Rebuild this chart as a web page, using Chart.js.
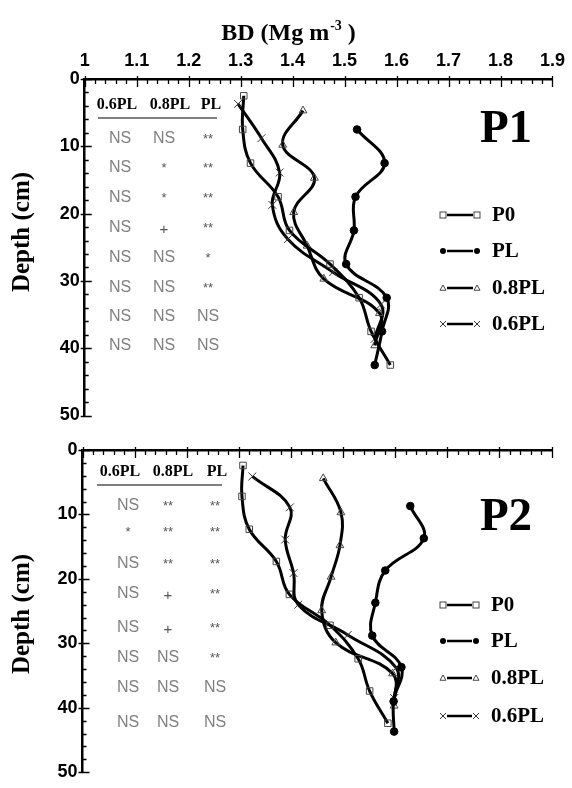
<!DOCTYPE html>
<html lang="en">
<head>
<meta charset="UTF-8">
<title>BD profiles · P1 / P2</title>
<script src="https://cdn.jsdelivr.net/npm/chart.js"></script>
<style>
  html, body {margin: 0; padding: 0; background: #fff;}
  #wrap {position: relative; width: 572px; height: 788px;}
  #wrap canvas {position: absolute; left: 0; top: 0;}
</style>
</head>
<body>
<div id="wrap">
  <canvas id="chartP1" width="572" height="788"></canvas>
  <canvas id="chartP2" width="572" height="788"></canvas>
</div>
<script>
// ---- values ----
const xTicks = [1, 1.1, 1.2, 1.3, 1.4, 1.5, 1.6, 1.7, 1.8, 1.9];
const yTicks = [0, 10, 20, 30, 40, 50];
const seriesNames = ['P0', 'PL', '0.8PL', '0.6PL'];
const tableHead = ['0.6PL', '0.8PL', 'PL'];

// P1: bulk density (Mg m-3) and depth (cm)
const p1DepthP0 = [2.5, 7.5, 12.5, 17.5, 22.5, 27.5, 32.5, 37.5, 42.5];
const p1BdP0    = [1.306, 1.304, 1.319, 1.372, 1.394, 1.472, 1.528, 1.551, 1.588];
const p1DepthPL = [7.5, 12.5, 17.5, 22.5, 27.5, 32.5, 37.5, 42.5];
const p1BdPL    = [1.524, 1.577, 1.521, 1.518, 1.503, 1.581, 1.572, 1.558];
const p1Depth08 = [4.7, 9.8, 14.7, 19.8, 24.8, 29.7, 34.8, 39.6];
const p1Bd08    = [1.420, 1.381, 1.442, 1.402, 1.428, 1.460, 1.567, 1.558];
const p1Depth06 = [3.7, 8.8, 13.9, 18.7, 23.8, 28.7, 33.5, 38.6];
const p1Bd06    = [1.295, 1.340, 1.375, 1.361, 1.391, 1.478, 1.570, 1.558];
const p1Signif = [
  ['NS', 'NS', '**'], ['NS', '*', '**'], ['NS', '*', '**'], ['NS', '+', '**'],
  ['NS', 'NS', '*'], ['NS', 'NS', '**'], ['NS', 'NS', 'NS'], ['NS', 'NS', 'NS']
];

// P2
const p2DepthP0 = [2.4, 7.2, 12.3, 17.3, 22.4, 27.2, 32.4, 37.4, 42.4];
const p2BdP0    = [1.308, 1.306, 1.320, 1.372, 1.397, 1.475, 1.529, 1.551, 1.586];
const p2DepthPL = [8.7, 13.7, 18.7, 23.7, 28.8, 33.7, 39.0, 43.7];
const p2BdPL    = [1.629, 1.655, 1.581, 1.562, 1.556, 1.612, 1.597, 1.598];
const p2Depth08 = [4.4, 9.7, 14.8, 19.7, 24.9, 29.9, 34.7, 39.7];
const p2Bd08    = [1.462, 1.496, 1.494, 1.477, 1.459, 1.486, 1.595, 1.598];
const p2Depth06 = [4.1, 8.9, 13.9, 19.1, 24.0, 28.7, 33.8, 38.5];
const p2Bd06    = [1.326, 1.398, 1.389, 1.405, 1.414, 1.509, 1.602, 1.598];
const p2Signif = [
  ['NS', '**', '**'], ['*', '**', '**'], ['NS', '**', '**'], ['NS', '+', '**'],
  ['NS', '+', '**'], ['NS', 'NS', '**'], ['NS', 'NS', 'NS'], ['NS', 'NS', 'NS']
];

// ---- styles / layout ----
const markStyle = [
  {pointStyle: 'rect', pointRadius: 4.6, pointBackgroundColor: 'rgba(0,0,0,0)', pointBorderColor: '#444', pointBorderWidth: 1},
  {pointStyle: 'circle', pointRadius: 3.8, pointBackgroundColor: '#000', pointBorderColor: '#000', pointBorderWidth: 1},
  {pointStyle: 'triangle', pointRadius: 4.5, pointBackgroundColor: 'rgba(0,0,0,0)', pointBorderColor: '#444', pointBorderWidth: 1},
  {pointStyle: 'crossRot', pointRadius: 5.5, pointBackgroundColor: '#444', pointBorderColor: '#333', pointBorderWidth: 1}
];
const legendMark = ['rect', 'circle', 'triangle', 'crossRot'];

const panelP1 = {
  tag: 'P1', showXLabels: true,
  box: {top: 79, left: 84.7, padRight: 19.3, padBottom: 372.5},
  series: [[p1BdP0, p1DepthP0], [p1BdPL, p1DepthPL], [p1Bd08, p1Depth08], [p1Bd06, p1Depth06]],
  signif: p1Signif,
  yTitle: {x: 23, y: 232}, tagPos: {x: 506, y: 130},
  table: {headY: 105, headX: [117, 170, 211], lineY: 118, lineX: [98, 217], colX: [120, 164, 208],
          rowY: [139, 168, 198, 228, 258, 288, 317, 346]},
  legend: {y: [215, 251, 288, 324], x0: 443, x1: 477, tx: 492}
};
const panelP2 = {
  tag: 'P2', showXLabels: false,
  box: {top: 450, left: 82.5, padRight: 20.5, padBottom: 11},
  series: [[p2BdP0, p2DepthP0], [p2BdPL, p2DepthPL], [p2Bd08, p2Depth08], [p2Bd06, p2Depth06]],
  signif: p2Signif,
  yTitle: {x: 23, y: 614}, tagPos: {x: 506, y: 518},
  table: {headY: 472, headX: [120, 173, 217], lineY: 485, lineX: [97, 222], colX: [128, 168, 215],
          rowY: [506, 532, 564, 594, 628, 658, 688, 723]},
  legend: {y: [605, 641, 678, 716], x0: 443, x1: 476, tx: 491}
};

function profile(xs, ds) {
  return xs.map((v, i) => ({x: v, y: ds[i]}));
}

// inward tick marks (major + minor), like the original plot
const tickMarks = {
  id: 'tickMarks',
  afterDraw(chart) {
    const {ctx, chartArea: a} = chart;
    const x = chart.scales.x, y = chart.scales.y;
    ctx.save();
    ctx.strokeStyle = '#000';
    ctx.lineWidth = 1.3;
    ctx.beginPath();
    for (let i = 0; i <= 45; i++) {
      const px = Math.round(x.getPixelForValue(1 + i * 0.02)) + 0.5;
      const major = i % 5 === 0;
      ctx.moveTo(px, a.top - (major ? 3 : 0));
      ctx.lineTo(px, a.top + (major ? 8 : 5));
    }
    for (let i = 0; i <= 25; i++) {
      const py = Math.round(y.getPixelForValue(i * 2)) + 0.5;
      const major = i % 5 === 0;
      ctx.moveTo(a.left - (major ? 4 : 0), py);
      ctx.lineTo(a.left + (major ? 7 : 4), py);
    }
    ctx.stroke();
    ctx.restore();
  }
};

function drawMark(ctx, style, x, y, r) {
  ctx.beginPath();
  if (style === 'rect') {
    ctx.strokeStyle = '#444'; ctx.lineWidth = 1;
    ctx.strokeRect(x - r, y - r, 2 * r, 2 * r);
  } else if (style === 'circle') {
    ctx.fillStyle = '#000';
    ctx.arc(x, y, r, 0, Math.PI * 2);
    ctx.fill();
  } else if (style === 'triangle') {
    ctx.strokeStyle = '#444'; ctx.lineWidth = 1;
    ctx.moveTo(x, y - r);
    ctx.lineTo(x + r, y + r * 0.75);
    ctx.lineTo(x - r, y + r * 0.75);
    ctx.closePath();
    ctx.stroke();
  } else {
    ctx.strokeStyle = '#333'; ctx.lineWidth = 1;
    ctx.moveTo(x - r, y - r); ctx.lineTo(x + r, y + r);
    ctx.moveTo(x - r, y + r); ctx.lineTo(x + r, y - r);
    ctx.stroke();
  }
}

function decorFor(panel) {
  return {
    id: 'decor',
    afterDraw(chart) {
      const ctx = chart.ctx;
      ctx.save();
      ctx.fillStyle = '#000';

      // axis title (only above the top panel)
      if (panel.showXLabels) {
        ctx.textBaseline = 'alphabetic';
        ctx.textAlign = 'left';
        ctx.font = 'bold 24px "Liberation Serif"';
        const a = 'BD (Mg m';
        const wa = ctx.measureText(a).width;
        ctx.font = 'bold 14px "Liberation Serif"';
        const wb = ctx.measureText('-3').width;
        ctx.font = 'bold 24px "Liberation Serif"';
        const wc = ctx.measureText(' )').width;
        let sx = 288 - (wa + wb + wc) / 2;
        ctx.fillText(a, sx, 40);
        ctx.font = 'bold 14px "Liberation Serif"';
        ctx.fillText('-3', sx + wa + 1, 30);
        ctx.font = 'bold 24px "Liberation Serif"';
        ctx.fillText(' )', sx + wa + wb + 1, 40);
      }

      // y title
      ctx.save();
      ctx.translate(panel.yTitle.x, panel.yTitle.y);
      ctx.rotate(-Math.PI / 2);
      ctx.font = 'bold 25px "Liberation Serif"';
      ctx.textAlign = 'center';
      ctx.textBaseline = 'middle';
      ctx.fillText('Depth (cm)', 0, 0);
      ctx.restore();

      // panel tag
      ctx.font = 'bold 47px "Liberation Serif"';
      ctx.textAlign = 'center';
      ctx.textBaseline = 'middle';
      ctx.fillText(panel.tag, panel.tagPos.x, panel.tagPos.y);

      // significance table
      const t = panel.table;
      ctx.font = 'bold 16px "Liberation Serif"';
      tableHead.forEach((h, i) => ctx.fillText(h, t.headX[i], t.headY));
      ctx.strokeStyle = '#000';
      ctx.lineWidth = 1.2;
      ctx.beginPath();
      ctx.moveTo(t.lineX[0], t.lineY);
      ctx.lineTo(t.lineX[1], t.lineY);
      ctx.stroke();
      panel.signif.forEach((row, r) => {
        row.forEach((s, c) => {
          if (s === 'NS') {
            ctx.font = '16px "Liberation Sans"';
            ctx.fillStyle = '#808080';
            ctx.fillText(s, t.colX[c], t.rowY[r]);
          } else if (s === '+') {
            ctx.font = '15px "Liberation Sans"';
            ctx.fillStyle = '#555';
            ctx.fillText(s, t.colX[c], t.rowY[r] + 2);
          } else {
            ctx.font = '13px "Liberation Sans"';
            ctx.fillStyle = '#555';
            ctx.fillText(s, t.colX[c], t.rowY[r]);
          }
        });
      });

      // legend
      const L = panel.legend;
      seriesNames.forEach((name, i) => {
        const y = L.y[i];
        ctx.strokeStyle = '#000';
        ctx.lineWidth = 2.5;
        ctx.beginPath();
        ctx.moveTo(L.x0 + 4, y);
        ctx.lineTo(L.x1 - 4, y);
        ctx.stroke();
        drawMark(ctx, legendMark[i], L.x0, y, 3);
        drawMark(ctx, legendMark[i], L.x1, y, 3);
        ctx.fillStyle = '#000';
        ctx.font = 'bold 21px "Liberation Serif"';
        ctx.textAlign = 'left';
        ctx.textBaseline = 'middle';
        ctx.fillText(name, L.tx, y + 1);
      });
      ctx.restore();
    }
  };
}

function makeChart(id, panel) {
  return new Chart(document.getElementById(id), {
    type: 'scatter',
    data: {
      datasets: panel.series.map((s, i) => Object.assign({
        label: seriesNames[i],
        data: profile(s[0], s[1]),
        showLine: true,
        tension: 0.4,
        borderColor: '#000',
        borderWidth: 3,
        clip: false
      }, markStyle[i]))
    },
    options: {
      responsive: false,
      animation: false,
      devicePixelRatio: 1,
      layout: {padding: {top: 0, left: 0, right: panel.box.padRight, bottom: panel.box.padBottom}},
      plugins: {legend: {display: false}, tooltip: {enabled: false}},
      scales: {
        x: {
          type: 'linear', position: 'top', min: 1, max: 1.9,
          afterBuildTicks: s => { s.ticks = xTicks.map(v => ({value: v})); },
          afterFit: s => { s.height = panel.box.top; },
          grid: {display: false, drawTicks: false},
          border: {display: true, color: '#000', width: 2.5},
          ticks: {display: panel.showXLabels, padding: 7, color: '#000', maxRotation: 0,
                  font: {family: 'Liberation Sans', size: 18, weight: 'bold'},
                  callback: v => String(+v.toFixed(1))}
        },
        y: {
          type: 'linear', reverse: true, min: 0, max: 50,
          afterBuildTicks: s => { s.ticks = yTicks.map(v => ({value: v})); },
          afterFit: s => { s.width = panel.box.left; },
          grid: {display: false, drawTicks: false},
          border: {display: true, color: '#000', width: 2.5},
          ticks: {padding: 5, color: '#000',
                  font: {family: 'Liberation Sans', size: 18, weight: 'bold'},
                  callback: v => String(v)}
        }
      }
    },
    plugins: [tickMarks, decorFor(panel)]
  });
}

makeChart('chartP1', panelP1);
makeChart('chartP2', panelP2);
</script>
</body>
</html>
